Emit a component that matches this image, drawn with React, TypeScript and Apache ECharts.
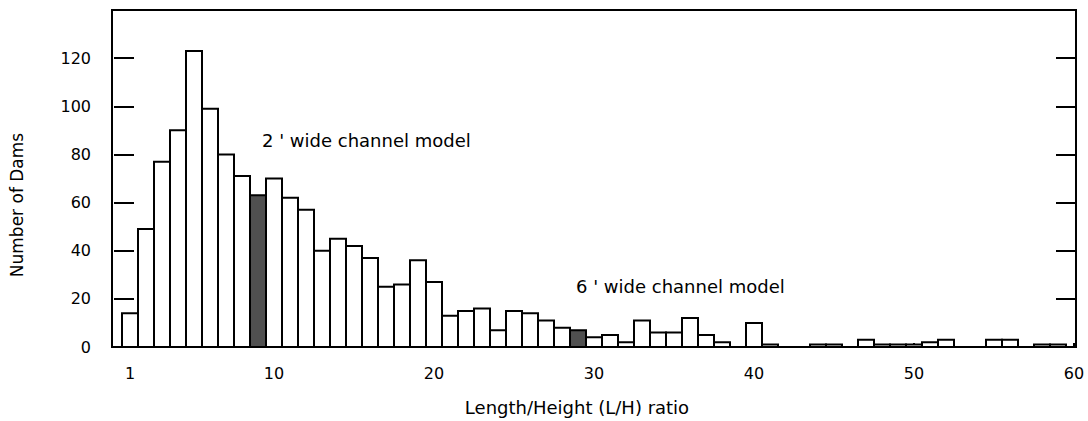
import React, { useEffect, useRef } from "react";
import * as echarts from "echarts";

// L/H ratio bins (each bin is one unit wide, centred on the ratio)
const ratios = [
  1, 2, 3, 4, 5, 6, 7, 8, 9, 10,
  11, 12, 13, 14, 15, 16, 17, 18, 19, 20,
  21, 22, 23, 24, 25, 26, 27, 28, 29, 30,
  31, 32, 33, 34, 35, 36, 37, 38, 39, 40,
  41, 42, 43, 44, 45, 46, 47, 48, 49, 50,
  51, 52, 53, 54, 55, 56, 57, 58, 59, 60,
];

// Number of dams in each bin
const damCounts = [
  14, 49, 77, 90, 123, 99, 80, 71, 63, 70,
  62, 57, 40, 45, 42, 37, 25, 26, 36, 27,
  13, 15, 16, 7, 15, 14, 11, 8, 7, 4,
  5, 2, 11, 6, 6, 12, 5, 2, 0, 10,
  1, 0, 0, 1, 1, 0, 3, 1, 1, 1,
  2, 3, 0, 0, 3, 3, 0, 1, 1, 0,
];

// Bins that correspond to the physical channel models
const modelBins = [9, 29];

const xTickLabels = [1, 10, 20, 30, 40, 50, 60];
const yTickValues = [0, 20, 40, 60, 80, 100, 120];

const annotations = [
  { text: "2 ' wide channel model", x: 262, y: 140 },
  { text: "6 ' wide channel model", x: 576, y: 286 },
];

const FONT = "DejaVu Sans";

export default function App() {
  const ref = useRef<HTMLDivElement>(null);

  useEffect(() => {
    if (!ref.current) return;
    const chart = echarts.init(ref.current, undefined, { renderer: "svg" });

    const data = ratios.map((r, i) => [r, damCounts[i]]);

    chart.setOption({
      animation: false,
      backgroundColor: "#ffffff",
      textStyle: { fontFamily: FONT, color: "#000" },
      grid: {
        left: 112,
        right: 12,
        top: 10,
        bottom: 74,
        show: true,
        borderColor: "#000",
        borderWidth: 2,
        backgroundColor: "transparent",
      },
      xAxis: {
        type: "value",
        min: -0.125,
        max: 60.125,
        splitLine: { show: false },
        axisLine: { show: false },
        axisTick: {
          show: true,
          inside: true,
          length: 4,
          customValues: xTickLabels,
          lineStyle: { color: "#000", width: 2 },
        },
        axisLabel: {
          customValues: xTickLabels,
          fontFamily: FONT,
          fontSize: 16,
          color: "#000",
          margin: 18,
        },
      },
      yAxis: [
        {
          type: "value",
          min: 0,
          max: 140,
          interval: 20,
          splitLine: { show: false },
          axisLine: { show: false },
          axisTick: {
            show: true,
            inside: true,
            length: 20,
            lineStyle: { color: "#000", width: 2 },
          },
          axisLabel: {
            customValues: yTickValues,
            fontFamily: FONT,
            fontSize: 16,
            color: "#000",
            margin: 21,
          },
        },
        {
          type: "value",
          position: "right",
          min: 0,
          max: 140,
          interval: 20,
          splitLine: { show: false },
          axisLine: { show: false },
          axisTick: {
            show: true,
            inside: true,
            length: 20,
            lineStyle: { color: "#000", width: 2 },
          },
          axisLabel: { show: false },
        },
      ],
      graphic: [
        ...annotations.map((a) => ({
          type: "text",
          x: a.x,
          y: a.y,
          style: {
            text: a.text,
            fontFamily: FONT,
            fontSize: 18,
            fill: "#000",
            align: "left",
            verticalAlign: "middle",
          },
        })),
        {
          type: "text",
          x: 577,
          y: 407,
          style: {
            text: "Length/Height (L/H) ratio",
            fontFamily: FONT,
            fontSize: 18,
            fill: "#000",
            align: "center",
            verticalAlign: "middle",
          },
        },
        {
          type: "text",
          x: 17,
          y: 205,
          rotation: Math.PI / 2,
          style: {
            text: "Number of Dams",
            fontFamily: FONT,
            fontSize: 17,
            fill: "#000",
            align: "center",
            verticalAlign: "middle",
          },
        },
      ],
      series: [
        {
          type: "custom",
          clip: true,
          data,
          renderItem: (params: any, api: any) => {
            const x = api.value(0);
            const v = api.value(1);
            const topLeft = api.coord([x - 0.5, v]);
            const bottomRight = api.coord([x + 0.5, 0]);
            const shaded = modelBins.includes(x);
            return {
              type: "rect",
              shape: {
                x: topLeft[0],
                y: topLeft[1],
                width: bottomRight[0] - topLeft[0],
                height: bottomRight[1] - topLeft[1],
              },
              style: {
                fill: shaded ? "#505050" : "#ffffff",
                stroke: "#000",
                lineWidth: 2,
              },
            };
          },
        },
      ],
    });

    return () => chart.dispose();
  }, []);

  return (
    <div
      ref={ref}
      style={{ position: "fixed", left: 0, top: 0, width: 1088, height: 421 }}
    />
  );
}
